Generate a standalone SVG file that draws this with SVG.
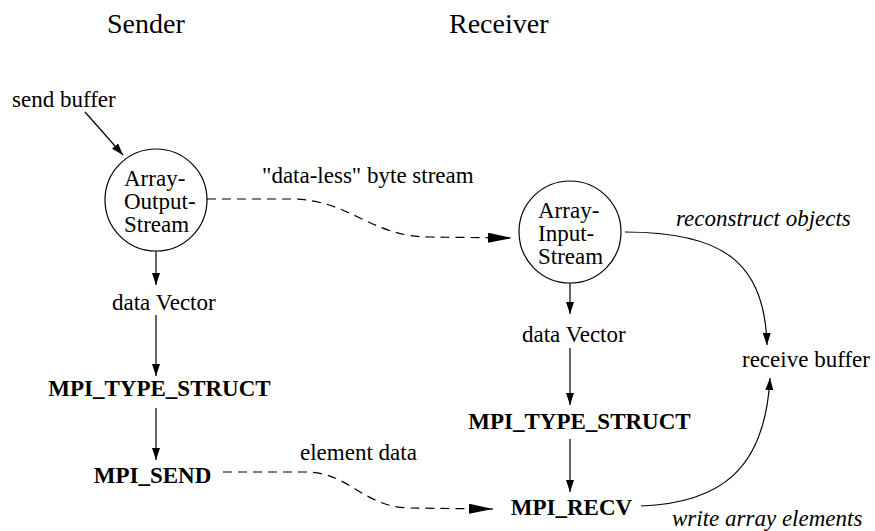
<svg xmlns="http://www.w3.org/2000/svg" width="875" height="531" viewBox="0 0 875 531">
<style>
  text { font-family: "Liberation Serif", "Times New Roman", serif; fill: #000; }
  .title { font-size: 28px; }
  .lbl { font-size: 23px; }
  .bold { font-size: 23px; font-weight: bold; }
  .ital { font-size: 23px; font-style: italic; }
  .node { fill: #fff; stroke: #000; stroke-width: 1.2; }
  .edge { fill: none; stroke: #000; stroke-width: 1.2; }
  .dash { stroke-dasharray: 9 6; }
</style>
<defs>
  <marker id="arr" markerUnits="userSpaceOnUse" markerWidth="12" markerHeight="8" refX="12" refY="4" orient="auto">
    <path d="M0,0 L12,4 L0,8 z" fill="#000"/>
  </marker>
  <marker id="arrBig" markerUnits="userSpaceOnUse" markerWidth="24" markerHeight="10" refX="24" refY="5" orient="auto">
    <path d="M0,0 L24,5 L0,10 z" fill="#000"/>
  </marker>
</defs>

<g id="titles">
  <text class="title" x="107" y="33">Sender</text>
  <text class="title" x="449" y="33">Receiver</text>
</g>

<g id="connectors">
  <line class="edge" x1="85" y1="112" x2="123" y2="155" marker-end="url(#arr)"/>
  <path class="edge dash" d="M207,199 L290,199 C350,199 370,237 430,237 L512,238" marker-end="url(#arrBig)"/>
  <line class="edge" x1="156" y1="251" x2="156" y2="285" marker-end="url(#arr)"/>
  <line class="edge" x1="156" y1="315" x2="156" y2="376" marker-end="url(#arr)"/>
  <line class="edge" x1="156" y1="408" x2="156" y2="460" marker-end="url(#arr)"/>
  <path class="edge dash" d="M223,472 L305,472 C350,472 362,507 410,508 L493,509" marker-end="url(#arrBig)"/>
  <line class="edge" x1="570" y1="283" x2="570" y2="314" marker-end="url(#arr)"/>
  <line class="edge" x1="570" y1="348" x2="570" y2="405" marker-end="url(#arr)"/>
  <line class="edge" x1="570" y1="439" x2="570" y2="492" marker-end="url(#arr)"/>
  <path class="edge" d="M625,232 C720,232 765,260 767,345" marker-end="url(#arr)"/>
  <path class="edge" d="M641,506 C720,503 765,470 770,378" marker-end="url(#arr)"/>
</g>

<g id="send-buffer"><text class="lbl" x="12" y="107">send buffer</text></g>

<g id="array-output-stream">
  <circle class="node" cx="156" cy="200" r="51"/>
  <text class="lbl" x="124" y="186">Array-</text>
  <text class="lbl" x="124" y="208.5">Output-</text>
  <text class="lbl" x="124" y="231.5">Stream</text>
</g>

<g id="array-input-stream">
  <circle class="node" cx="570" cy="232" r="51"/>
  <text class="lbl" x="538" y="218">Array-</text>
  <text class="lbl" x="538" y="240.5">Input-</text>
  <text class="lbl" x="538" y="263.5">Stream</text>
</g>

<g id="label-byte-stream"><text class="lbl" x="262" y="183">"data-less" byte stream</text></g>
<g id="label-element-data"><text class="lbl" x="300" y="460">element data</text></g>
<g id="label-reconstruct"><text class="ital" x="676" y="226">reconstruct objects</text></g>
<g id="label-write"><text class="ital" x="672" y="526">write array elements</text></g>

<g id="send-data-vector"><text class="lbl" x="112" y="310">data Vector</text></g>
<g id="send-type-struct"><text class="bold" x="159.5" y="396" text-anchor="middle">MPI_TYPE_STRUCT</text></g>
<g id="mpi-send"><text class="bold" x="152.5" y="483" text-anchor="middle">MPI_SEND</text></g>

<g id="recv-data-vector"><text class="lbl" x="522" y="342">data Vector</text></g>
<g id="recv-type-struct"><text class="bold" x="579.5" y="429" text-anchor="middle">MPI_TYPE_STRUCT</text></g>
<g id="mpi-recv"><text class="bold" x="571.5" y="515" text-anchor="middle">MPI_RECV</text></g>

<g id="receive-buffer"><text class="lbl" x="742" y="367">receive buffer</text></g>
</svg>
